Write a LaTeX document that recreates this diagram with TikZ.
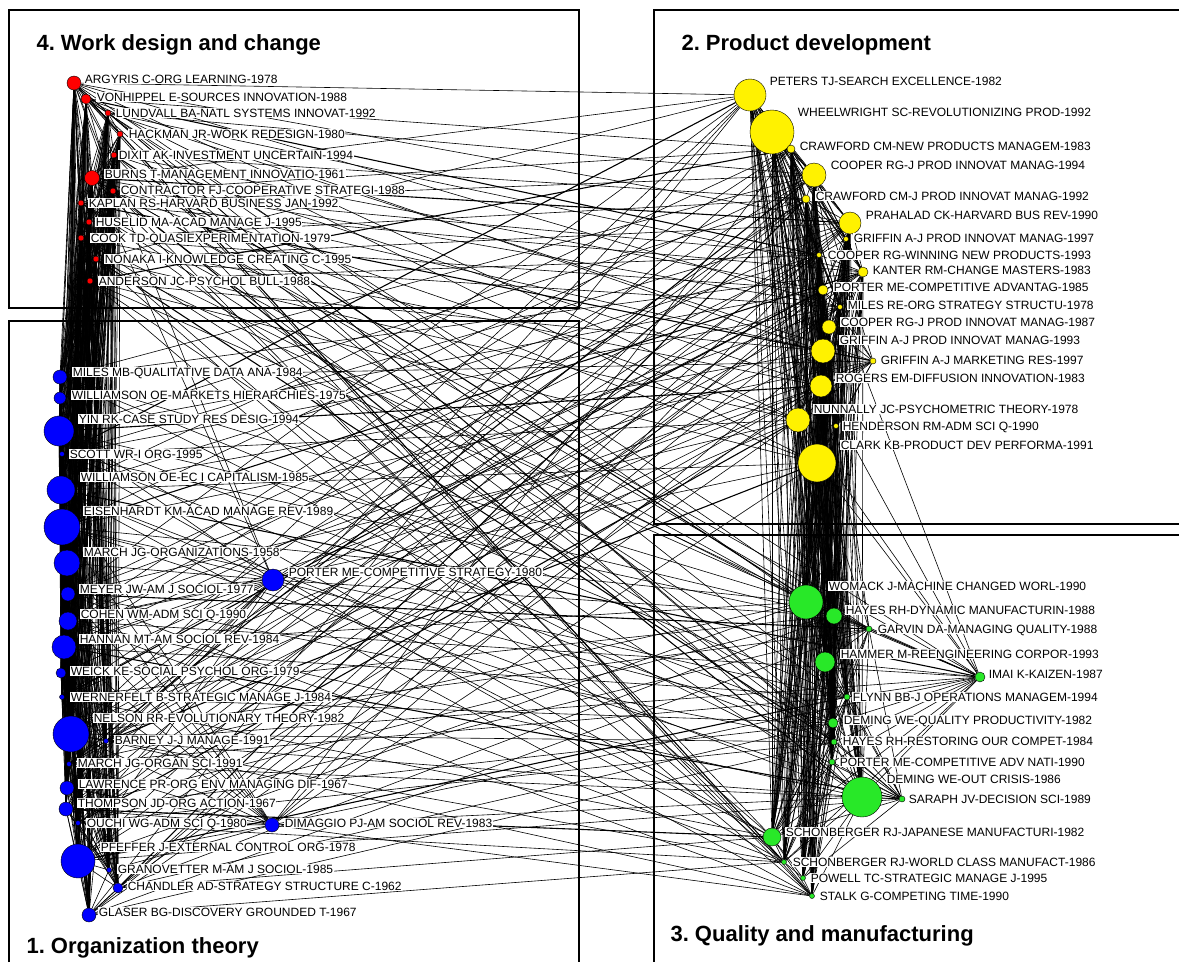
\documentclass[tikz,border=0pt]{standalone}
\usepackage{fontspec}
\setmainfont{Liberation Sans}
\frenchspacing
\usetikzlibrary{backgrounds}
\definecolor{qgreen}{RGB}{40,232,40}

\begin{document}
\begin{tikzpicture}[x=1pt, y=-1pt,
    cit/.style={draw=black, line width=0.4pt, circle, inner sep=0pt},
    org/.style={cit, fill=blue},
    wrk/.style={cit, fill=red},
    prd/.style={cit, fill=yellow},
    qua/.style={cit, fill=qgreen},
    lab/.style={anchor=west, fill=white, inner sep=0.6pt, text height=8.6pt, text depth=0pt, font=\fontsize{12}{12}\selectfont},
    ttl/.style={anchor=base west, font=\fontsize{22}{22}\selectfont\bfseries},
    panel/.style={line width=1.6pt},
    tie/.style={line width=0.6pt},
    far/.style={line width=0.6pt},
    heavy/.style={line width=1.1pt}]
    \useasboundingbox (0,0) rectangle (1179,962);

    % cluster frames
    \draw[panel] (9,10) rectangle (579,308);
    \draw[panel] (9,962) -- (9,321) -- (579,321) -- (579,962);
    \draw[panel] (1179,10) -- (654,10) -- (654,524) -- (1179,524);
    \draw[panel] (1179,535) -- (654,535) -- (654,962);

    \node[ttl] (t4) at (33,50) {4. Work design and change};
    \node[ttl] (t2) at (678,50) {2. Product development};
    \node[ttl] (t1) at (23,953) {1. Organization theory};
    \node[ttl] (t3) at (667,941) {3. Quality and manufacturing};

    % 4. work design and change
    \node[wrk, minimum size=14] (argyris) at (74,83) {};
    \node[wrk, minimum size=10] (vonhippel) at (86,99) {};
    \node[wrk, minimum size=6] (lundvall) at (108,113) {};
    \node[wrk, minimum size=6] (hackman) at (120,134) {};
    \node[wrk, minimum size=6] (dixit) at (114,155) {};
    \node[wrk, minimum size=15] (burns) at (92,178) {};
    \node[wrk, minimum size=6] (contractor) at (113,191) {};
    \node[wrk, minimum size=6] (kaplan) at (81,203) {};
    \node[wrk, minimum size=6] (huselid) at (89,222) {};
    \node[wrk, minimum size=6] (cook) at (81,238) {};
    \node[wrk, minimum size=6] (nonaka) at (96,259) {};
    \node[wrk, minimum size=6] (anderson) at (90,281) {};

    \node[lab] (argyris-l) at (84,79) {ARGYRIS C-ORG LEARNING-1978};
    \node[lab] (vonhippel-l) at (96,97) {VONHIPPEL E-SOURCES INNOVATION-1988};
    \node[lab] (lundvall-l) at (115,113) {LUNDVALL BA-NATL SYSTEMS INNOVAT-1992};
    \node[lab] (hackman-l) at (128,134) {HACKMAN JR-WORK REDESIGN-1980};
    \node[lab] (dixit-l) at (118,155) {DIXIT AK-INVESTMENT UNCERTAIN-1994};
    \node[lab] (burns-l) at (104,174) {BURNS T-MANAGEMENT INNOVATIO-1961};
    \node[lab] (contractor-l) at (120,190) {CONTRACTOR FJ-COOPERATIVE STRATEGI-1988};
    \node[lab] (kaplan-l) at (88,203) {KAPLAN RS-HARVARD BUSINESS JAN-1992};
    \node[lab] (huselid-l) at (95,222) {HUSELID MA-ACAD MANAGE J-1995};
    \node[lab] (cook-l) at (90,238) {COOK TD-QUASIEXPERIMENTATION-1979};
    \node[lab] (nonaka-l) at (104,259) {NONAKA I-KNOWLEDGE CREATING C-1995};
    \node[lab] (anderson-l) at (98,281) {ANDERSON JC-PSYCHOL BULL-1988};

    % 1. organization theory
    \node[org, minimum size=14] (milesmb) at (60,377) {};
    \node[org, minimum size=12] (wmarkets) at (60,398) {};
    \node[org, minimum size=30] (yin) at (59,431) {};
    \node[org, minimum size=5] (scott) at (62,454) {};
    \node[org, minimum size=28] (wcapital) at (61,490) {};
    \node[org, minimum size=36] (eisenhardt) at (62,527) {};
    \node[org, minimum size=26] (march58) at (67,563) {};
    \node[org, minimum size=22] (porter80) at (273,580) {};
    \node[org, minimum size=14] (meyer) at (68,594) {};
    \node[org, minimum size=18] (cohen) at (68,621) {};
    \node[org, minimum size=24] (hannan) at (64,647) {};
    \node[org, minimum size=10] (weick) at (61,673) {};
    \node[org, minimum size=5] (wernerfelt) at (62,697) {};
    \node[org, minimum size=36] (nelson) at (71,734) {};
    \node[org, minimum size=5] (barney) at (106,741) {};
    \node[org, minimum size=5] (march91) at (69,764) {};
    \node[org, minimum size=14] (lawrence) at (67,788) {};
    \node[org, minimum size=14] (thompson) at (66,809) {};
    \node[org, minimum size=5] (ouchi) at (78,823) {};
    \node[org, minimum size=14] (dimaggio) at (272,825) {};
    \node[org, minimum size=34] (pfeffer) at (78,861) {};
    \node[org, minimum size=5] (granovetter) at (109,870) {};
    \node[org, minimum size=10] (chandler) at (118,888) {};
    \node[org, minimum size=14] (glaser) at (89,915) {};

    \node[lab] (milesmb-l) at (72,372) {MILES MB-QUALITATIVE DATA ANA-1984};
    \node[lab] (wmarkets-l) at (71,395) {WILLIAMSON OE-MARKETS HIERARCHIES-1975};
    \node[lab] (yin-l) at (78,419) {YIN RK-CASE STUDY RES DESIG-1994};
    \node[lab] (scott-l) at (69,454) {SCOTT WR-I ORG-1995};
    \node[lab] (wcapital-l) at (80,477) {WILLIAMSON OE-EC I CAPITALISM-1985};
    \node[lab] (eisenhardt-l) at (83,511) {EISENHARDT KM-ACAD MANAGE REV-1989};
    \node[lab] (march58-l) at (83,552) {MARCH JG-ORGANIZATIONS-1958};
    \node[lab] (porter80-l) at (288,572) {PORTER ME-COMPETITIVE STRATEGY-1980};
    \node[lab] (meyer-l) at (79,589) {MEYER JW-AM J SOCIOL-1977};
    \node[lab] (cohen-l) at (80,614) {COHEN WM-ADM SCI Q-1990};
    \node[lab] (hannan-l) at (79,639) {HANNAN MT-AM SOCIOL REV-1984};
    \node[lab] (weick-l) at (70,671) {WEICK KE-SOCIAL PSYCHOL ORG-1979};
    \node[lab] (wernerfelt-l) at (70,697) {WERNERFELT B-STRATEGIC MANAGE J-1984};
    \node[lab] (nelson-l) at (93,718) {NELSON RR-EVOLUTIONARY THEORY-1982};
    \node[lab] (barney-l) at (114,740) {BARNEY J-J MANAGE-1991};
    \node[lab] (march91-l) at (77,763) {MARCH JG-ORGAN SCI-1991};
    \node[lab] (lawrence-l) at (78,784) {LAWRENCE PR-ORG ENV MANAGING DIF-1967};
    \node[lab] (thompson-l) at (77,803) {THOMPSON JD-ORG ACTION-1967};
    \node[lab] (ouchi-l) at (86,823) {OUCHI WG-ADM SCI Q-1980};
    \node[lab] (dimaggio-l) at (284,823) {DIMAGGIO PJ-AM SOCIOL REV-1983};
    \node[lab] (pfeffer-l) at (100,847) {PFEFFER J-EXTERNAL CONTROL ORG-1978};
    \node[lab] (granovetter-l) at (117,869) {GRANOVETTER M-AM J SOCIOL-1985};
    \node[lab] (chandler-l) at (127,886) {CHANDLER AD-STRATEGY STRUCTURE C-1962};
    \node[lab] (glaser-l) at (98,912) {GLASER BG-DISCOVERY GROUNDED T-1967};

    % 2. product development
    \node[prd, minimum size=32] (peters) at (750,95) {};
    \node[prd, minimum size=44] (wheelwright) at (772,132) {};
    \node[prd, minimum size=8] (crawford83) at (791,149) {};
    \node[prd, minimum size=24] (cooper94) at (814,175) {};
    \node[prd, minimum size=8] (crawford92) at (806,199) {};
    \node[prd, minimum size=22] (prahalad) at (850,223) {};
    \node[prd, minimum size=5] (griffin97) at (846,239) {};
    \node[prd, minimum size=5] (cooperwin) at (819,255) {};
    \node[prd, minimum size=10] (kanter) at (863,272) {};
    \node[prd, minimum size=10] (porter85) at (823,290) {};
    \node[prd, minimum size=5] (milesre) at (840,307) {};
    \node[prd, minimum size=14] (cooper87) at (829,327) {};
    \node[prd, minimum size=24] (griffin93) at (823,351) {};
    \node[prd, minimum size=6] (griffinmr) at (873,361) {};
    \node[prd, minimum size=22] (rogers) at (821,386) {};
    \node[prd, minimum size=24] (nunnally) at (798,420) {};
    \node[prd, minimum size=5] (henderson) at (836,426) {};
    \node[prd, minimum size=38] (clark) at (817,463) {};

    \node[lab] (peters-l) at (769,81) {PETERS TJ-SEARCH EXCELLENCE-1982};
    \node[lab] (wheelwright-l) at (797,112) {WHEELWRIGHT SC-REVOLUTIONIZING PROD-1992};
    \node[lab] (crawford83-l) at (799,146) {CRAWFORD CM-NEW PRODUCTS MANAGEM-1983};
    \node[lab] (cooper94-l) at (830,165) {COOPER RG-J PROD INNOVAT MANAG-1994};
    \node[lab] (crawford92-l) at (815,196) {CRAWFORD CM-J PROD INNOVAT MANAG-1992};
    \node[lab] (prahalad-l) at (865,215) {PRAHALAD CK-HARVARD BUS REV-1990};
    \node[lab] (griffin97-l) at (853,238) {GRIFFIN A-J PROD INNOVAT MANAG-1997};
    \node[lab] (cooperwin-l) at (827,255) {COOPER RG-WINNING NEW PRODUCTS-1993};
    \node[lab] (kanter-l) at (872,270) {KANTER RM-CHANGE MASTERS-1983};
    \node[lab] (porter85-l) at (833,287) {PORTER ME-COMPETITIVE ADVANTAG-1985};
    \node[lab] (milesre-l) at (847,305) {MILES RE-ORG STRATEGY STRUCTU-1978};
    \node[lab] (cooper87-l) at (840,322) {COOPER RG-J PROD INNOVAT MANAG-1987};
    \node[lab] (griffin93-l) at (839,340) {GRIFFIN A-J PROD INNOVAT MANAG-1993};
    \node[lab] (griffinmr-l) at (880,360) {GRIFFIN A-J MARKETING RES-1997};
    \node[lab] (rogers-l) at (835,378) {ROGERS EM-DIFFUSION INNOVATION-1983};
    \node[lab] (nunnally-l) at (813,409) {NUNNALLY JC-PSYCHOMETRIC THEORY-1978};
    \node[lab] (henderson-l) at (842,426) {HENDERSON RM-ADM SCI Q-1990};
    \node[lab] (clark-l) at (840,445) {CLARK KB-PRODUCT DEV PERFORMA-1991};

    % 3. quality and manufacturing
    \node[qua, minimum size=34] (womack) at (806,602) {};
    \node[qua, minimum size=16] (hayes88) at (834,616) {};
    \node[qua, minimum size=6] (garvin) at (869,629) {};
    \node[qua, minimum size=20] (hammer) at (825,662) {};
    \node[qua, minimum size=10] (imai) at (980,677) {};
    \node[qua, minimum size=6] (flynn) at (847,697) {};
    \node[qua, minimum size=10] (deming82) at (833,723) {};
    \node[qua, minimum size=6] (hayes84) at (834,742) {};
    \node[qua, minimum size=6] (porter90) at (832,762) {};
    \node[qua, minimum size=40] (deming86) at (862,797) {};
    \node[qua, minimum size=6] (saraph) at (902,799) {};
    \node[qua, minimum size=18] (schon82) at (772,837) {};
    \node[qua, minimum size=5] (schon86) at (784,862) {};
    \node[qua, minimum size=5] (powell) at (803,878) {};
    \node[qua, minimum size=5] (stalk) at (812,896) {};

    \node[lab] (womack-l) at (828,586) {WOMACK J-MACHINE CHANGED WORL-1990};
    \node[lab] (hayes88-l) at (845,610) {HAYES RH-DYNAMIC MANUFACTURIN-1988};
    \node[lab] (garvin-l) at (877,629) {GARVIN DA-MANAGING QUALITY-1988};
    \node[lab] (hammer-l) at (840,654) {HAMMER M-REENGINEERING CORPOR-1993};
    \node[lab] (imai-l) at (988,674) {IMAI K-KAIZEN-1987};
    \node[lab] (flynn-l) at (852,697) {FLYNN BB-J OPERATIONS MANAGEM-1994};
    \node[lab] (deming82-l) at (843,720) {DEMING WE-QUALITY PRODUCTIVITY-1982};
    \node[lab] (hayes84-l) at (842,741) {HAYES RH-RESTORING OUR COMPET-1984};
    \node[lab] (porter90-l) at (839,762) {PORTER ME-COMPETITIVE ADV NATI-1990};
    \node[lab] (deming86-l) at (886,779) {DEMING WE-OUT CRISIS-1986};
    \node[lab] (saraph-l) at (908,799) {SARAPH JV-DECISION SCI-1989};
    \node[lab] (schon82-l) at (785,832) {SCHONBERGER RJ-JAPANESE MANUFACTURI-1982};
    \node[lab] (schon86-l) at (792,862) {SCHONBERGER RJ-WORLD CLASS MANUFACT-1986};
    \node[lab] (powell-l) at (810,878) {POWELL TC-STRATEGIC MANAGE J-1995};
    \node[lab] (stalk-l) at (819,896) {STALK G-COMPETING TIME-1990};

    % co-citation ties
    \def\leftcore{argyris,vonhippel,lundvall,hackman,dixit,burns,contractor,kaplan,huselid,cook,nonaka,anderson,milesmb,wmarkets,yin,scott,wcapital,eisenhardt,march58,meyer,cohen,hannan,weick,wernerfelt,nelson,barney,march91,lawrence,thompson,ouchi,pfeffer,granovetter,chandler,glaser}
    \def\rightcore{peters,wheelwright,crawford83,cooper94,crawford92,prahalad,griffin97,cooperwin,kanter,porter85,milesre,cooper87,griffin93,rogers,nunnally,henderson,clark,womack,hayes88,hammer,flynn,deming82,hayes84,porter90,deming86,schon82,schon86,powell,stalk}
    \def\leftall{argyris,vonhippel,lundvall,hackman,dixit,burns,contractor,kaplan,huselid,cook,nonaka,anderson,milesmb,wmarkets,yin,scott,wcapital,eisenhardt,march58,porter80,meyer,cohen,hannan,weick,wernerfelt,nelson,barney,march91,lawrence,thompson,ouchi,dimaggio,pfeffer,granovetter,chandler,glaser}
    \def\rightall{peters,wheelwright,crawford83,cooper94,crawford92,prahalad,griffin97,cooperwin,kanter,porter85,milesre,cooper87,griffin93,griffinmr,rogers,nunnally,henderson,clark,womack,hayes88,garvin,hammer,imai,flynn,deming82,hayes84,porter90,deming86,saraph,schon82,schon86,powell,stalk}
    \begin{scope}[on background layer]
        \foreach \a [count=\i] in \leftcore {
            \foreach \b [count=\j] in \leftcore {
                \ifnum\j>\i \draw[tie] (\a) -- (\b); \fi
            }
        }
        \foreach \a [count=\i] in \rightcore {
            \foreach \b [count=\j] in \rightcore {
                \ifnum\j>\i \draw[tie] (\a) -- (\b); \fi
            }
        }
        \foreach \b in {yin,wcapital,eisenhardt,march58,meyer,cohen,hannan,weick,wernerfelt,nelson,barney,march91,lawrence,thompson,pfeffer,burns,argyris}
            \draw[tie] (porter80) -- (\b);
        \foreach \b in {meyer,cohen,hannan,nelson,march91,lawrence,thompson,ouchi,pfeffer,granovetter,march58,weick,wcapital,eisenhardt}
            \draw[tie] (dimaggio) -- (\b);
        \foreach \b in {womack,hayes88,hammer,flynn,deming82,hayes84,porter90,deming86,garvin,schon82,schon86,clark,nunnally,wheelwright,rogers}
            \draw[tie] (imai) -- (\b);
        \foreach \b in {deming86,deming82,flynn,porter90,hayes84,schon82,powell,hammer,womack,garvin}
            \draw[tie] (saraph) -- (\b);
        \foreach \b in {womack,hayes88,hammer,deming82,flynn,deming86,clark,griffin93,schon82,cooper87}
            \draw[tie] (garvin) -- (\b);
        \foreach \b in {griffin93,rogers,cooper87,clark,nunnally,porter85,milesre,cooper94,henderson}
            \draw[tie] (griffinmr) -- (\b);
        % ties across the gap
        \foreach \a [count=\i] in \leftall {
            \foreach \b [count=\j] in \rightall {
                \pgfmathtruncatemacro\k{mod(\i*\j+3*\i+\j,5)}
                \pgfmathtruncatemacro\w{mod(\i+2*\j,9)}
                \ifnum\k=0
                    \ifnum\w=0 \draw[heavy] (\a) -- (\b); \else \draw[far] (\a) -- (\b); \fi
                \fi
            }
        }
    \end{scope}
\end{tikzpicture}
\end{document}
